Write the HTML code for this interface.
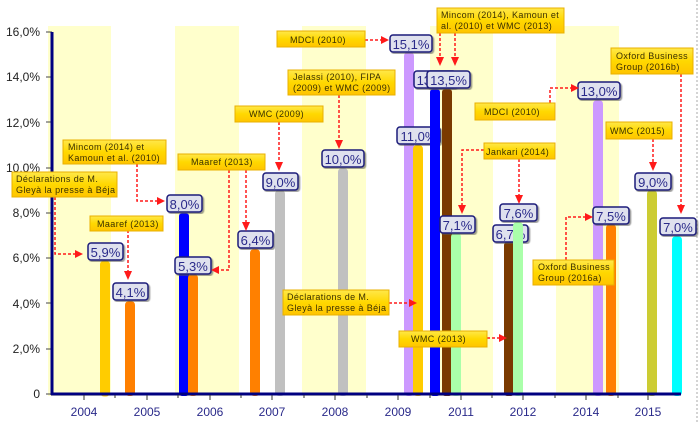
<!DOCTYPE html>
<html><head><meta charset="utf-8"><style>
html,body{margin:0;padding:0;background:#fff;}
svg{display:block;font-family:"Liberation Sans",Arial,sans-serif;}
.v rect{fill:#dfe1ee;stroke:#1a1a7a;stroke-width:1.5;}
.v text{fill:#2a2a8a;font-size:13px;text-anchor:middle;}
.a rect{fill:url(#g);stroke:#e8b000;stroke-width:1;}
.a text{fill:#3a3000;font-size:9px;letter-spacing:0.4px;}
.ar{stroke:#ff1a1a;stroke-width:1.5;stroke-dasharray:3,2;fill:none;}
.ah{fill:#ff1a1a;}
.yl{font-size:12px;fill:#222;text-anchor:end;}
.xl{font-size:12px;fill:#2a2a8a;text-anchor:middle;}
</style></head><body>
<svg width="700" height="424" viewBox="0 0 700 424">
<defs>
<linearGradient id="g" x1="0" y1="0" x2="0" y2="1"><stop offset="0" stop-color="#ffe84a"/><stop offset="0.5" stop-color="#ffd800"/><stop offset="1" stop-color="#ffc400"/></linearGradient>
<filter id="sh"><feDropShadow dx="1.5" dy="1.5" stdDeviation="0.6" flood-color="#555" flood-opacity="0.6"/></filter>
</defs>
<g fill="#ffffcc">
<rect x="48" y="26" width="63" height="370"/>
<rect x="175" y="26" width="64" height="370"/>
<rect x="302" y="26" width="64" height="370"/>
<rect x="430" y="26" width="63" height="370"/>
<rect x="556" y="26" width="63" height="370"/>
</g>
<line x1="697" y1="0" x2="697" y2="424" stroke="#aaa" stroke-dasharray="2,2"/>
<g class="yl">
<text x="40" y="36">16,0%</text><text x="40" y="81">14,0%</text><text x="40" y="127">12,0%</text>
<text x="40" y="172">10,0%</text><text x="40" y="217">8,0%</text><text x="40" y="262">6,0%</text>
<text x="40" y="308">4,0%</text><text x="40" y="353">2,0%</text><text x="40" y="398">0</text>
</g>
<g stroke="#444" stroke-width="1">
<line x1="46" y1="32" x2="52" y2="32"/><line x1="46" y1="77" x2="52" y2="77"/><line x1="46" y1="122" x2="52" y2="122"/>
<line x1="46" y1="168" x2="52" y2="168"/><line x1="46" y1="213" x2="52" y2="213"/><line x1="46" y1="258" x2="52" y2="258"/>
<line x1="46" y1="303" x2="52" y2="303"/><line x1="46" y1="349" x2="52" y2="349"/><line x1="46" y1="394" x2="52" y2="394"/>
</g>
<rect x="100" y="260.5" width="10" height="136" rx="4" fill="#ffcc00"/>
<g class="v"><rect x="88" y="243" width="35" height="17" rx="3" filter="url(#sh)"/><text x="105.5" y="257">5,9%</text></g>
<rect x="125" y="301" width="10" height="95" rx="4" fill="#ff8000"/>
<g class="v"><rect x="113" y="283" width="35" height="17" rx="3" filter="url(#sh)"/><text x="130.5" y="297">4,1%</text></g>
<rect x="179" y="213" width="10" height="183" rx="3" fill="#0000ff"/>
<g class="v"><rect x="167" y="195" width="35" height="17" rx="3" filter="url(#sh)"/><text x="184.5" y="209">8,0%</text></g>
<rect x="188" y="274" width="10" height="122" rx="4" fill="#ff8000"/>
<g class="v"><rect x="175" y="257" width="36" height="17" rx="3" filter="url(#sh)"/><text x="193" y="271">5,3%</text></g>
<rect x="250" y="249" width="10" height="147" rx="4" fill="#ff8000"/>
<g class="v"><rect x="238" y="231" width="35" height="17" rx="3" filter="url(#sh)"/><text x="255.5" y="245">6,4%</text></g>
<rect x="275" y="190" width="10" height="206" rx="4" fill="#c0c0c0"/>
<g class="v"><rect x="263" y="173" width="35" height="17" rx="3" filter="url(#sh)"/><text x="280.5" y="187">9,0%</text></g>
<rect x="338" y="168" width="10" height="228" rx="4" fill="#c0c0c0"/>
<g class="v"><rect x="322" y="150" width="42" height="17" rx="3" filter="url(#sh)"/><text x="343" y="164">10,0%</text></g>
<rect x="404" y="52" width="10" height="344" rx="4" fill="#cc99ff"/>
<g class="v"><rect x="390" y="35" width="42" height="17" rx="3" filter="url(#sh)"/><text x="411" y="49">15,1%</text></g>
<rect x="413" y="145" width="10" height="251" rx="4" fill="#ffcc00"/>
<g class="v"><rect x="397" y="127" width="43" height="17" rx="3" filter="url(#sh)"/><text x="418.5" y="141">11,0%</text></g>
<rect x="430" y="89" width="10" height="307" rx="3" fill="#0000ff"/>
<g class="v"><rect x="414" y="71" width="42" height="17" rx="3" filter="url(#sh)"/><text x="435" y="85">13,5%</text></g>
<rect x="442" y="89" width="10" height="307" rx="3" fill="#7a3a00"/>
<g class="v"><rect x="427" y="71" width="43" height="17" rx="3" filter="url(#sh)"/><text x="448.5" y="85">13,5%</text></g>
<rect x="451" y="233" width="10" height="163" rx="4" fill="#aaffaa"/>
<g class="v"><rect x="440" y="216" width="35" height="17" rx="3" filter="url(#sh)"/><text x="457.5" y="230">7,1%</text></g>
<rect x="504" y="242" width="10" height="154" rx="3" fill="#7a3a00"/>
<g class="v"><rect x="493" y="225" width="35" height="17" rx="3" filter="url(#sh)"/><text x="510.5" y="239">6,7%</text></g>
<rect x="513" y="222" width="10" height="174" rx="4" fill="#aaffaa"/>
<g class="v"><rect x="500" y="204" width="37" height="17" rx="3" filter="url(#sh)"/><text x="518.5" y="218">7,6%</text></g>
<rect x="593" y="100" width="10" height="296" rx="4" fill="#cc99ff"/>
<g class="v"><rect x="578" y="82" width="42" height="17" rx="3" filter="url(#sh)"/><text x="599" y="96">13,0%</text></g>
<rect x="606" y="224" width="10" height="172" rx="4" fill="#ff8000"/>
<g class="v"><rect x="593" y="207" width="36" height="17" rx="3" filter="url(#sh)"/><text x="611" y="221">7,5%</text></g>
<rect x="647" y="190" width="10" height="206" rx="4" fill="#cccc33"/>
<g class="v"><rect x="635" y="173" width="36" height="17" rx="3" filter="url(#sh)"/><text x="653" y="187">9,0%</text></g>
<rect x="672" y="236" width="10" height="160" rx="4" fill="#00ffff"/>
<g class="v"><rect x="660" y="218" width="36" height="17" rx="3" filter="url(#sh)"/><text x="678" y="232">7,0%</text></g>
<line x1="52" y1="32" x2="52" y2="395" stroke="#000080" stroke-width="3"/>
<line x1="51" y1="394" x2="681" y2="394" stroke="#000080" stroke-width="3"/>
<g stroke="#333" stroke-width="1">
<line x1="84" y1="395" x2="84" y2="400"/><line x1="147" y1="395" x2="147" y2="400"/><line x1="210" y1="395" x2="210" y2="400"/>
<line x1="272" y1="395" x2="272" y2="400"/><line x1="335" y1="395" x2="335" y2="400"/><line x1="398" y1="395" x2="398" y2="400"/>
<line x1="461" y1="395" x2="461" y2="400"/><line x1="523" y1="395" x2="523" y2="400"/><line x1="586" y1="395" x2="586" y2="400"/>
<line x1="648" y1="395" x2="648" y2="400"/>
<line x1="115" y1="395" x2="115" y2="398"/><line x1="178" y1="395" x2="178" y2="398"/><line x1="241" y1="395" x2="241" y2="398"/>
<line x1="304" y1="395" x2="304" y2="398"/><line x1="367" y1="395" x2="367" y2="398"/><line x1="430" y1="395" x2="430" y2="398"/>
<line x1="492" y1="395" x2="492" y2="398"/><line x1="555" y1="395" x2="555" y2="398"/><line x1="618" y1="395" x2="618" y2="398"/>
</g>
<g class="xl">
<text x="84" y="416">2004</text><text x="147" y="416">2005</text><text x="210" y="416">2006</text><text x="272" y="416">2007</text>
<text x="335" y="416">2008</text><text x="398" y="416">2009</text><text x="461" y="416">2011</text><text x="523" y="416">2012</text>
<text x="586" y="416">2014</text><text x="648" y="416">2015</text>
</g>
<g class="ar">
<polyline points="55,197 55,254 76,254"/>
<polyline points="128,230 128,272"/>
<polyline points="137,164 137,201 157,201"/>
<polyline points="229,170 229,270 218,270"/>
<polyline points="246,170 246,224"/>
<polyline points="279,122 279,164"/>
<polyline points="365,40 382,40"/>
<polyline points="339,95 339,142"/>
<polyline points="389,303 410,303"/>
<polyline points="440,33 440,59"/>
<polyline points="455,33 455,59"/>
<polyline points="550,103 550,88 572,88"/>
<polyline points="484,150 462,150 462,207"/>
<polyline points="519,159 519,197"/>
<polyline points="487,338 500,338"/>
<polyline points="566,260 566,217 586,217"/>
<polyline points="653,139 653,164"/>
<polyline points="681,74 681,207"/>
</g>
<g class="ah">
<polygon points="83,254 75,250 75,258"/>
<polygon points="128,280 124,271 132,271"/>
<polygon points="165,201 157,197 157,205"/>
<polygon points="211,270 219,266 219,274"/>
<polygon points="246,231 242,222 250,222"/>
<polygon points="279,171 275,162 283,162"/>
<polygon points="389,40 381,36 381,44"/>
<polygon points="339,149 335,140 343,140"/>
<polygon points="417,303 409,299 409,307"/>
<polygon points="440,66 436,57 444,57"/>
<polygon points="455,66 451,57 459,57"/>
<polygon points="579,88 571,84 571,92"/>
<polygon points="462,214 458,205 466,205"/>
<polygon points="519,204 515,195 523,195"/>
<polygon points="507,338 499,334 499,342"/>
<polygon points="593,217 585,213 585,221"/>
<polygon points="653,171 649,162 657,162"/>
<polygon points="681,214 677,205 685,205"/>
</g>
<g class="a">
<rect x="12" y="172" width="105" height="25"/><text x="16" y="182">Déclarations de M.</text><text x="16" y="193">Gleyà la presse à Béja</text>
<rect x="90" y="216" width="73" height="15"/><text x="97" y="227">Maaref (2013)</text>
<rect x="63" y="140" width="103" height="24"/><text x="68" y="150">Mincom (2014) et</text><text x="68" y="161">Kamoun et al. (2010)</text>
<rect x="178" y="154" width="87" height="16"/><text x="191" y="165">Maaref (2013)</text>
<rect x="235" y="106" width="88" height="16"/><text x="249" y="117">WMC (2009)</text>
<rect x="277" y="31" width="88" height="16"/><text x="290" y="43">MDCI (2010)</text>
<rect x="288" y="70" width="107" height="25"/><text x="293" y="80">Jelassi (2010), FIPA</text><text x="293" y="91">(2009) et WMC (2009)</text>
<rect x="283" y="290" width="106" height="25"/><text x="287" y="300">Déclarations de M.</text><text x="287" y="311">Gleyà la presse à Béja</text>
<rect x="437" y="8" width="127" height="25"/><text x="441" y="18">Mincom (2014), Kamoun et</text><text x="441" y="29">al. (2010) et WMC (2013)</text>
<rect x="475" y="103" width="80" height="17"/><text x="484" y="115">MDCI (2010)</text>
<rect x="484" y="143" width="71" height="16"/><text x="486" y="155">Jankari (2014)</text>
<rect x="399" y="331" width="88" height="16"/><text x="411" y="342">WMC (2013)</text>
<rect x="533" y="260" width="81" height="25"/><text x="538" y="270">Oxford Business</text><text x="538" y="281">Group (2016a)</text>
<rect x="606" y="122" width="66" height="17"/><text x="610" y="134">WMC (2015)</text>
<rect x="611" y="48" width="82" height="26"/><text x="616" y="59">Oxford Business</text><text x="616" y="70">Group (2016b)</text>
</g>
</svg>
</body></html>
